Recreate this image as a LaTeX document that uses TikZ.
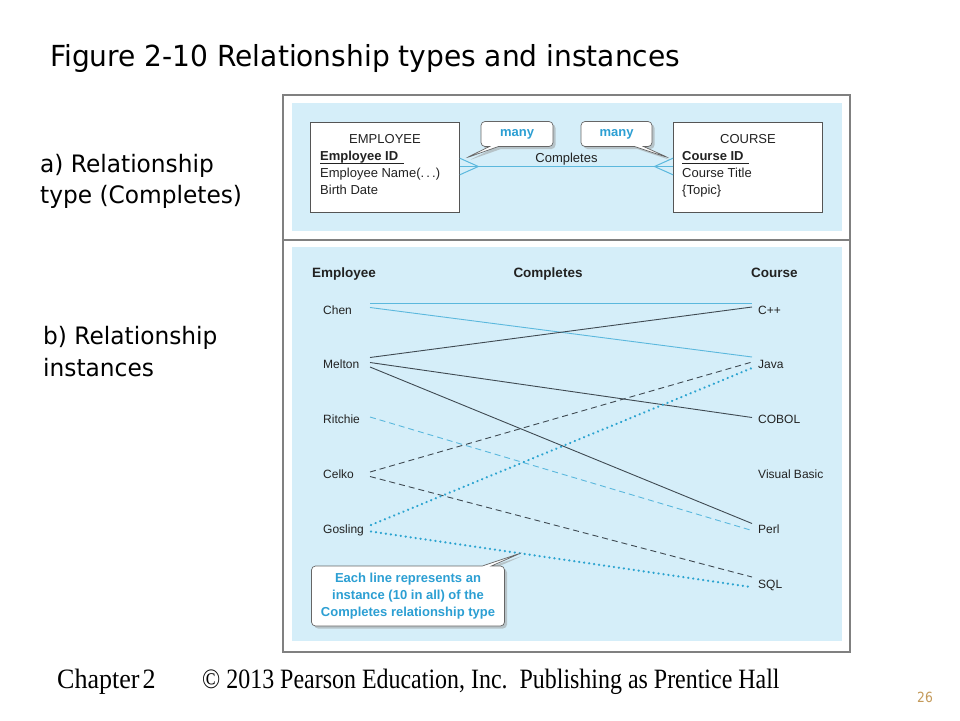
\documentclass[tikz,border=0pt]{standalone}
\usepackage{fontspec}
\setmainfont{Liberation Sans}
\newfontfamily\slidefont{DejaVu Sans}
\newfontfamily\footfont{Liberation Serif}
\usetikzlibrary{shapes.callouts,shadows}
\definecolor{panel}{HTML}{D5EEF9}
\definecolor{framecol}{HTML}{808080}
\definecolor{cyanline}{HTML}{5BB8DD}
\definecolor{darkline}{HTML}{3F4A52}
\definecolor{dotblue}{HTML}{2BA4D0}
\definecolor{calltext}{HTML}{2C9FD3}
\definecolor{pagenum}{HTML}{C49A5A}
\definecolor{boxline}{HTML}{555555}
\definecolor{dtext}{HTML}{222222}
\tikzset{
  slidetxt/.style={anchor=base west,inner sep=0pt,text=black},
  dtxt/.style={anchor=base west,inner sep=0pt,text=dtext,font=\fontsize{13}{15}\selectfont},
  itxt/.style={anchor=base west,inner sep=0pt,text=dtext,font=\fontsize{12}{14}\selectfont},
  htxt/.style={anchor=base west,inner sep=0pt,text=dtext,font=\fontsize{13.5}{15}\selectfont\bfseries},
  entbox/.style={draw=boxline,fill=white,line width=0.8pt},
  callbox/.style={rectangle callout,draw=gray!80!black,fill=white,line width=0.7pt,rounded corners=4pt,
     callout pointer width=9pt,
     drop shadow={shadow xshift=2.5pt,shadow yshift=-2.5pt,fill=gray!80},
     text=calltext,font=\fontsize{13}{17}\selectfont\bfseries,inner sep=0pt,align=center},
  lcyan/.style={draw=cyanline,line width=0.9pt},
  ldark/.style={draw=darkline,line width=0.9pt},
  lcyandash/.style={draw=cyanline,line width=0.9pt,dash pattern=on 6pt off 4pt},
  ldarkdash/.style={draw=darkline,line width=0.9pt,dash pattern=on 6pt off 4pt},
  ldot/.style={draw=dotblue,line width=2.5pt,dash pattern=on 0.01pt off 5pt,line cap=round},
  relline/.style={draw=cyanline,line width=1pt}
}
\begin{document}
\begin{tikzpicture}[x=1pt,y=-1pt]
\useasboundingbox (0,0) rectangle (960,720);
\fill[white] (0,0) rectangle (960,720);

% slide texts
\node[slidetxt] (title) at (50,66) {\scalebox{0.968}[1]{\slidefont\fontsize{29}{32}\selectfont Figure 2-10 Relationship types and instances}};
\node[slidetxt] (a1) at (40,172) {\scalebox{0.97}[1]{\slidefont\fontsize{24}{28}\selectfont a) Relationship}};
\node[slidetxt] (a2) at (40,203) {\scalebox{0.97}[1]{\slidefont\fontsize{24}{28}\selectfont type (Completes)}};
\node[slidetxt] (b1) at (43,344) {\scalebox{0.97}[1]{\slidefont\fontsize{24}{28}\selectfont b) Relationship}};
\node[slidetxt] (b2) at (43,376) {\scalebox{0.97}[1]{\slidefont\fontsize{24}{28}\selectfont instances}};

% frame and panels
\draw[framecol,line width=1.5pt] (283,95) rectangle (850,652);
\draw[framecol,line width=1.5pt] (283,240) -- (850,240);
\fill[panel] (292,103) rectangle (842,231);
\fill[panel] (292,247) rectangle (842,641);

% (a) relationship type
\node[entbox,minimum width=149pt,minimum height=90pt,anchor=north west] (empbox) at (310,122) {};
\node[entbox,minimum width=149pt,minimum height=90pt,anchor=north west] (crsbox) at (673,122) {};
\node[dtxt,anchor=base] (empname) at (385,143) {EMPLOYEE};
\node[dtxt,font=\fontsize{13}{15}\selectfont\bfseries] (empid) at (320,160) {Employee ID};
\node[dtxt] (empnm) at (320,177) {Employee Name(.\,.\,.)};
\node[dtxt] (empbd) at (320,194) {Birth Date};
\draw[dtext,line width=0.7pt] (empid.base west) ++(0,3.5) -- ++(84,0);
\node[dtxt,anchor=base] (crsname) at (748,143) {COURSE};
\node[dtxt,font=\fontsize{13}{15}\selectfont\bfseries] (crsid) at (682,160) {Course ID};
\node[dtxt] (crstt) at (682,177) {Course Title};
\node[dtxt] (crstp) at (682,194) {\{Topic\}};
\draw[dtext,line width=0.7pt] (crsid.base west) ++(0,3.5) -- ++(67,0);

\coordinate (ra) at (empbox.east |- 0,166.5);
\coordinate (rb) at (crsbox.west |- 0,166.5);
\draw[relline] (ra) -- (rb);
\draw[relline] (ra) ++(0,-8.3) -- ++(18.5,8.3) -- ++(-18.5,8.3);
\draw[relline] (rb) ++(0,-8.3) -- ++(-18.5,8.3) -- ++(18.5,8.3);
\node[dtxt,anchor=base] (complbl) at (566.5,162) {Completes};

\node[callbox,minimum width=72pt,minimum height=25pt,callout absolute pointer={(466,158)}] (many1) at (517,134) {many};
\node[callbox,minimum width=71pt,minimum height=25pt,callout absolute pointer={(669,158)}] (many2) at (616.5,134) {many};

% (b) instances
\node[htxt] (hemp) at (312,277) {Employee};
\node[htxt,anchor=base] (hcomp) at (548,277) {Completes};
\node[htxt] (hcrs) at (751,277) {Course};

\node[itxt] (chen) at (323,314) {Chen};
\node[itxt] (melton) at (323,368) {Melton};
\node[itxt] (ritchie) at (323,423) {Ritchie};
\node[itxt] (celko) at (323,478) {Celko};
\node[itxt] (gosling) at (323,533) {Gosling};

\node[itxt] (cpp) at (758,314) {C++};
\node[itxt] (java) at (758,368) {Java};
\node[itxt] (cobol) at (758,423) {COBOL};
\node[itxt] (vb) at (758,478) {Visual Basic};
\node[itxt] (perl) at (758,533) {Perl};
\node[itxt] (sql) at (758,588) {SQL};

% line ends
\coordinate (chen1) at (370,303);
\coordinate (chen2) at (370,307.5);
\coordinate (mel1) at (370,357.5);
\coordinate (mel2) at (370,362.5);
\coordinate (mel3) at (370,367);
\coordinate (rit1) at (370,417);
\coordinate (cel1) at (370,472);
\coordinate (cel2) at (370,476.5);
\coordinate (gos1) at (371,525);
\coordinate (gos2) at (371,531.5);

\coordinate (cpp1) at (752,303);
\coordinate (cpp2) at (752,307);
\coordinate (java1) at (752,357);
\coordinate (java2) at (752,362);
\coordinate (java3) at (752,368);
\coordinate (cobol1) at (752,417.5);
\coordinate (perl1) at (752,523.5);
\coordinate (perl2) at (752,530.5);
\coordinate (sql1) at (752,577);
\coordinate (sql2) at (751,587);

\draw[lcyan] (chen1) -- (cpp1);
\draw[lcyan] (chen2) -- (java1);
\draw[ldark] (mel1) -- (cpp2);
\draw[ldark] (mel2) -- (cobol1);
\draw[ldark] (mel3) -- (perl1);
\draw[lcyandash] (rit1) -- (perl2);
\draw[ldarkdash] (cel1) -- (java2);
\draw[ldarkdash] (cel2) -- (sql1);
\draw[ldot] (gos1) -- (java3);
\draw[ldot] (gos2) -- (sql2);

\node[callbox,minimum width=193pt,minimum height=60pt,callout absolute pointer={(521,553)}] (note) at (408,596)
  {Each line represents an\\instance (10 in all) of the\\Completes relationship type};

% footer
\node[slidetxt] (chap) at (57,688) {\scalebox{0.93}[1]{\footfont\fontsize{28}{32}\selectfont Chapter\hspace{0.12em}2}};
\node[slidetxt] (copy) at (202,688) {\scalebox{0.855}[1]{\footfont\fontsize{28}{32}\selectfont \textcopyright{} 2013 Pearson Education, Inc.\ \ Publishing as Prentice Hall}};
\node[slidetxt,text=pagenum] (pnum) at (917,702) {\scalebox{0.88}[1]{\slidefont\fontsize{14}{16}\selectfont 26}};
\end{tikzpicture}
\end{document}
